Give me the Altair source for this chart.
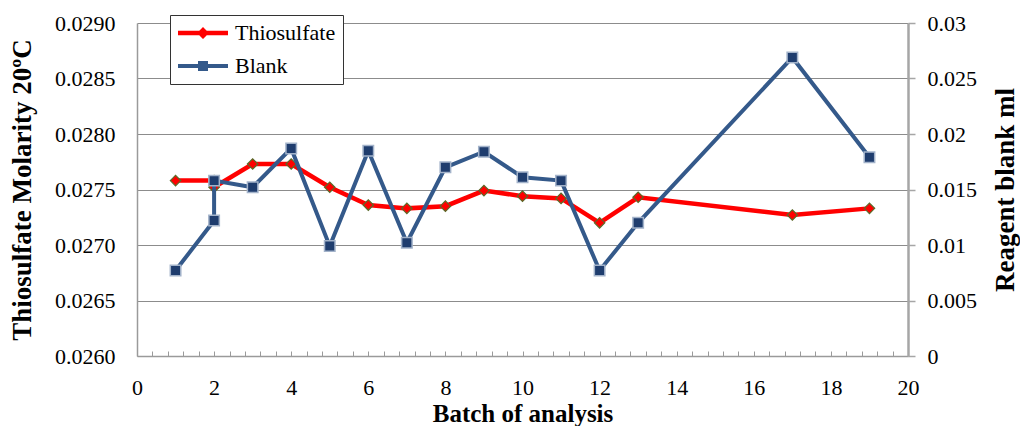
import altair as alt
import pandas as pd

# ---- data ----
series_names = ["Thiosulfate", "Blank"]

batch_thio = [1, 2, 2, 3, 4, 5, 6, 7, 8, 9, 10, 11, 12, 13, 17, 19]
thio_molarity = [0.02758, 0.02758, 0.02752, 0.02773, 0.02773, 0.02752, 0.02736, 0.02733,
                 0.02735, 0.02749, 0.02744, 0.02742, 0.02720, 0.02743, 0.02727, 0.02733]

batch_blank = [1, 2, 2, 3, 4, 5, 6, 7, 8, 9, 10, 11, 12, 13, 17, 19]
blank_ml = [0.0077, 0.0122, 0.0158, 0.0152, 0.0187, 0.0099, 0.0185, 0.0102,
            0.0170, 0.0184, 0.0161, 0.0158, 0.0077, 0.0120, 0.0269, 0.0179]

left_ticks = [0.0260, 0.0265, 0.0270, 0.0275, 0.0280, 0.0285, 0.0290]
right_ticks = [0, 0.005, 0.01, 0.015, 0.02, 0.025, 0.03]
x_labels = [0, 2, 4, 6, 8, 10, 12, 14, 16, 18, 20]
x_minor_ticks = [round(i * 0.4, 1) for i in range(1, 50)]

RED = "#FF0000"
BLUE = "#34598A"
FONT = "Liberation Serif"

df_t = pd.DataFrame({"batch": batch_thio, "value": thio_molarity,
                     "series": "Thiosulfate", "idx": list(range(len(batch_thio)))})
df_b = pd.DataFrame({"batch": batch_blank, "value": blank_ml,
                     "series": "Blank", "idx": list(range(len(batch_blank)))})

x_scale = alt.Scale(domain=[0, 20], nice=False, zero=False)

x_main = alt.X("batch:Q", scale=x_scale, title="Batch of analysis",
               axis=alt.Axis(orient="bottom", values=x_labels, format="d", tickSize=0, grid=False,
                             labelFlush=False,
                             domainColor="#9A9A9A", domainWidth=1.5,
                             labelFont=FONT, labelFontSize=22, labelColor="black",
                             labelPadding=21,
                             titleFont=FONT, titleFontSize=25, titleFontWeight="bold",
                             titleColor="black", titlePadding=3))
x_minor = alt.X("batch:Q", scale=x_scale, title=None,
                axis=alt.Axis(orient="bottom", values=x_minor_ticks, labels=False, domain=False,
                              grid=False, tickSize=5, tickColor="#9A9A9A", tickWidth=1,
                              offset=-5))
x_none = alt.X("batch:Q", scale=x_scale, axis=None)

y_left_scale = alt.Scale(domain=[0.026, 0.029], nice=False, zero=False)
y_left = alt.Y("value:Q", scale=y_left_scale, title="Thiosulfate Molarity 20ºC",
               axis=alt.Axis(orient="left", values=left_ticks, format=".4f", tickSize=0,
                             grid=True, gridColor="#8C8C8C", gridWidth=1,
                             domainColor="#9A9A9A", domainWidth=1.5,
                             labelFont=FONT, labelFontSize=22, labelColor="black",
                             labelPadding=22,
                             titleFont=FONT, titleFontSize=27, titleFontWeight="bold",
                             titleColor="black", titlePadding=18))

y_right_scale = alt.Scale(domain=[0, 0.03], nice=False)
y_right = alt.Y("value:Q", scale=y_right_scale, title="Reagent blank ml",
                axis=alt.Axis(orient="right", values=right_ticks, format="~g",
                              tickSize=7, tickColor="#A6A6A6", tickWidth=1.5, grid=False,
                              domainColor="#A6A6A6", domainWidth=2.5,
                              labelFont=FONT, labelFontSize=22, labelColor="black",
                              labelPadding=12,
                              titleFont=FONT, titleFontSize=27, titleFontWeight="bold",
                              titleColor="black", titleAngle=270, titleBaseline="bottom",
                              titlePadding=43))

thio_line = alt.Chart(df_t).mark_line(color=RED, strokeWidth=4.5).encode(
    x=x_main, y=y_left, order="idx:Q")
thio_pts = alt.Chart(df_t).mark_point(shape="diamond", filled=True, fill=RED, stroke="#5A6B2A",
                                      strokeWidth=1.2, size=110, opacity=1).encode(
    x=x_minor, y=y_left)
thio = alt.layer(thio_line, thio_pts).resolve_axis(x="independent")

blank_line = alt.Chart(df_b).mark_line(color=BLUE, strokeWidth=4).encode(
    x=x_none, y=y_right, order="idx:Q")
blank_pts = alt.Chart(df_b).mark_point(shape="square", filled=True, fill="#1F3D6E", stroke="#A3B3CA",
                                       strokeWidth=1.5, size=110, opacity=1).encode(
    x=x_none, y=y_right)
blank = alt.layer(blank_line, blank_pts)

# legend symbols: line segment with the series marker
path_thio = ("M-2.5,-0.22 L2.5,-0.22 L2.5,0.22 L-2.5,0.22 Z "
             "M0,-0.6 L0.6,0 L0,0.6 L-0.6,0 Z")
path_blank = ("M-2.5,-0.2 L2.5,-0.2 L2.5,0.2 L-2.5,0.2 Z "
              "M-0.5,-0.5 L0.5,-0.5 L0.5,0.5 L-0.5,0.5 Z")

legend = alt.Legend(title=None, orient="none", legendX=33, legendY=-8,
                    padding=7, fillColor="white", strokeColor="#333333",
                    labelFont=FONT, labelFontSize=22, labelColor="black",
                    symbolSize=400, symbolOffset=15, labelOffset=21,
                    symbolStrokeWidth=0, symbolOpacity=1, rowPadding=11)

legend_layer = alt.Chart(df_b).transform_filter("false").mark_point(
    filled=True, size=400, opacity=1).encode(
    color=alt.Color("series:N", scale=alt.Scale(domain=series_names, range=[RED, BLUE]),
                    legend=legend),
    shape=alt.Shape("series:N", scale=alt.Scale(domain=series_names,
                                                range=[path_thio, path_blank]),
                    legend=legend))

chart = alt.layer(thio, blank, legend_layer).resolve_scale(
    y="independent").resolve_axis(x="independent", y="independent").properties(
    width=771, height=333,
    autosize=alt.AutoSizeParams(type="none"),
    padding={"left": 129, "top": 15, "right": 112, "bottom": 70},
    background="white",
).configure_view(stroke=None)

chart.save("out.html", embed_options={"renderer": "svg", "actions": False})
